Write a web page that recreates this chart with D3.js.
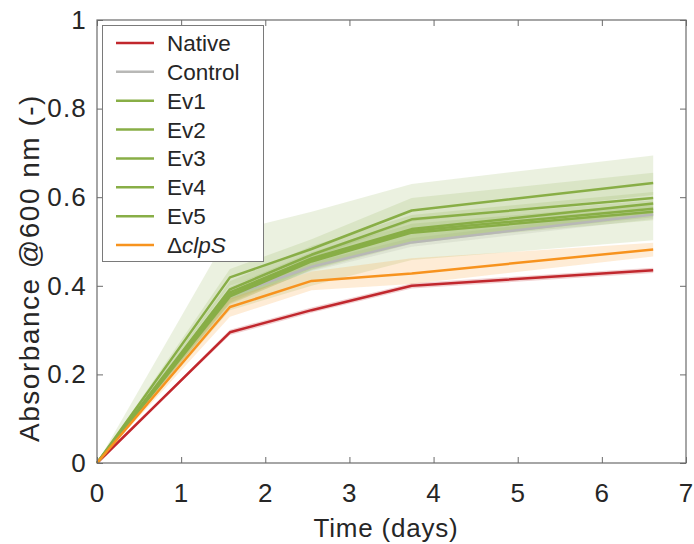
<!DOCTYPE html>
<html>
<head>
<meta charset="utf-8">
<script src="https://cdn.jsdelivr.net/npm/d3@7"></script>
<style>
  html, body { margin: 0; padding: 0; background: #fff; }
  svg { display: block; font-family: "Liberation Sans", Arial, sans-serif; }
</style>
</head>
<body>
<svg id="chart" width="694" height="544"></svg>
<script>
// Sampling times (days)
const times = [0, 1.58, 2.55, 3.74, 6.61];

// Series names as shown in the legend
const seriesNames = ["Native", "Control", "Ev1", "Ev2", "Ev3", "Ev4", "Ev5", "ΔclpS"];

// Mean absorbance per series
const nativeMean  = [0, 0.295, 0.345, 0.400, 0.435];
const controlMean = [0, 0.378, 0.443, 0.498, 0.561];
const ev1Mean     = [0, 0.419, 0.483, 0.570, 0.632];
const ev2Mean     = [0, 0.392, 0.470, 0.550, 0.598];
const ev3Mean     = [0, 0.385, 0.462, 0.528, 0.586];
const ev4Mean     = [0, 0.380, 0.458, 0.524, 0.574];
const ev5Mean     = [0, 0.376, 0.455, 0.520, 0.567];
const clpsMean    = [0, 0.352, 0.411, 0.428, 0.482];

// Shaded range (lower / upper bound) per series
const nativeLow   = [0, 0.289, 0.339, 0.394, 0.429];
const nativeHigh  = [0, 0.301, 0.351, 0.406, 0.441];
const controlLow  = [0, 0.368, 0.433, 0.488, 0.551];
const controlHigh = [0, 0.388, 0.453, 0.508, 0.571];
const ev1Low      = [0, 0.400, 0.462, 0.545, 0.605];
const ev1High     = [0, 0.438, 0.505, 0.598, 0.655];
const ev2Low      = [0, 0.345, 0.400, 0.458, 0.503];
const ev2High     = [0, 0.522, 0.567, 0.630, 0.694];
const ev3Low      = [0, 0.360, 0.435, 0.495, 0.560];
const ev3High     = [0, 0.410, 0.490, 0.560, 0.612];
const ev4Low      = [0, 0.362, 0.440, 0.500, 0.555];
const ev4High     = [0, 0.398, 0.476, 0.548, 0.593];
const ev5Low      = [0, 0.358, 0.437, 0.500, 0.548];
const ev5High     = [0, 0.394, 0.473, 0.540, 0.586];
const clpsLow     = [0, 0.330, 0.390, 0.404, 0.466];
const clpsHigh    = [0, 0.372, 0.432, 0.462, 0.497];

const xTicks = [0, 1, 2, 3, 4, 5, 6, 7];
const yTicks = [0, 0.2, 0.4, 0.6, 0.8, 1];

const green = "#88ae46";
const seriesColors = ["#c1272d", "#b8b8b6", green, green, green, green, green, "#f7931e"];
const means = [nativeMean, controlMean, ev1Mean, ev2Mean, ev3Mean, ev4Mean, ev5Mean, clpsMean];
const lows  = [nativeLow, controlLow, ev1Low, ev2Low, ev3Low, ev4Low, ev5Low, clpsLow];
const highs = [nativeHigh, controlHigh, ev1High, ev2High, ev3High, ev4High, ev5High, clpsHigh];
const bandColors = ["#c1272d", "#c4c4c4", green, green, green, green, green, "#f7931e"];
const bandOpacity = [0.22, 0.25, 0.17, 0.17, 0.17, 0.17, 0.17, 0.18];

const series = seriesNames.map((name, i) => ({
  name,
  color: seriesColors[i],
  bandColor: bandColors[i],
  opacity: bandOpacity[i],
  points: times.map((t, j) => ({ t, m: means[i][j], lo: lows[i][j], hi: highs[i][j] }))
}));

const svg = d3.select("#chart");
const plot = { left: 97, right: 686, top: 20, bottom: 463 };

const x = d3.scaleLinear().domain([0, 7]).range([plot.left, plot.right]);
const y = d3.scaleLinear().domain([0, 1]).range([plot.bottom, plot.top]);

const axisColor = "#6b6b6b";
const textColor = "#262626";

// Shaded ranges first, then the mean lines on top
const area = d3.area()
  .x(d => x(d.t))
  .y0(d => y(d.lo))
  .y1(d => y(d.hi));
const line = d3.line()
  .x(d => x(d.t))
  .y(d => y(d.m));

const g = svg.append("g");
series.forEach(s => {
  g.append("path")
    .attr("d", area(s.points))
    .attr("fill", s.bandColor)
    .attr("fill-opacity", s.opacity)
    .attr("stroke", "none");
});
series.forEach(s => {
  g.append("path")
    .attr("d", line(s.points))
    .attr("fill", "none")
    .attr("stroke", s.color)
    .attr("stroke-width", 2.5)
    .attr("stroke-linejoin", "round");
});

// Axes: ticks point inward on all four sides of the box
const tickLen = 6;
const bottomAxis = d3.axisBottom(x).tickValues(xTicks).tickSize(-tickLen).tickPadding(21).tickFormat(d3.format("d"));
const topAxis = d3.axisTop(x).tickValues(xTicks).tickSize(-tickLen).tickFormat("");
const leftAxis = d3.axisLeft(y).tickValues(yTicks).tickSize(-tickLen).tickPadding(10)
  .tickFormat(d => d === 0 || d === 1 ? d3.format("d")(d) : d3.format(".1f")(d));
const rightAxis = d3.axisRight(y).tickValues(yTicks).tickSize(-tickLen).tickFormat("");

function styleAxis(sel) {
  sel.select(".domain").remove();
  sel.selectAll(".tick line").attr("stroke", axisColor).attr("stroke-width", 1);
  sel.selectAll(".tick text")
    .attr("fill", textColor)
    .style("font-size", "26px")
    .style("letter-spacing", "1.2px");
}

svg.append("g").attr("transform", `translate(0,${plot.bottom})`).call(bottomAxis).call(styleAxis);
svg.append("g").attr("transform", `translate(0,${plot.top})`).call(topAxis).call(styleAxis);
svg.append("g").attr("transform", `translate(${plot.left},0)`).call(leftAxis).call(styleAxis);
svg.append("g").attr("transform", `translate(${plot.right},0)`).call(rightAxis).call(styleAxis);
svg.append("rect")
  .attr("x", plot.left).attr("y", plot.top)
  .attr("width", plot.right - plot.left).attr("height", plot.bottom - plot.top)
  .attr("fill", "none").attr("stroke", axisColor).attr("stroke-width", 1.2);

// Axis titles
svg.append("text")
  .attr("x", 386)
  .attr("y", 537)
  .attr("text-anchor", "middle")
  .attr("fill", textColor)
  .style("font-size", "26px")
  .style("letter-spacing", "0.8px")
  .text("Time (days)");

svg.append("text")
  .attr("transform", "translate(39,268) rotate(-90)")
  .attr("text-anchor", "middle")
  .attr("fill", textColor)
  .style("font-size", "28px")
  .style("letter-spacing", "1.5px")
  .text("Absorbance @600 nm (-)");

// Legend
const legend = svg.append("g");
legend.append("rect")
  .attr("x", 102.5).attr("y", 25.5)
  .attr("width", 161).attr("height", 236)
  .attr("fill", "#fff").attr("stroke", "#7a7a7a").attr("stroke-width", 1);

const rowY = d3.scalePoint().domain(seriesNames).range([43, 245]);
series.forEach(s => {
  const yy = rowY(s.name);
  legend.append("line")
    .attr("x1", 116).attr("x2", 154)
    .attr("y1", yy).attr("y2", yy)
    .attr("stroke", s.color).attr("stroke-width", 2.5);
  const t = legend.append("text")
    .attr("x", 167).attr("y", yy + 8)
    .attr("fill", textColor)
    .style("font-size", "22.5px");
  if (s.name.startsWith("Δ")) {
    t.append("tspan").text("Δ");
    t.append("tspan").style("font-style", "italic").text(s.name.slice(1));
  } else {
    t.text(s.name);
  }
});
</script>
</body>
</html>
